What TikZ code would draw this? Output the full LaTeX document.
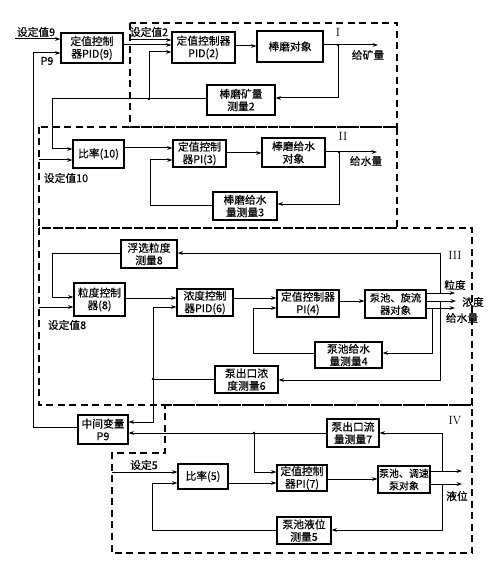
\documentclass[tikz,border=0pt]{standalone}
\usepackage{fontspec}
\newfontfamily\cjk[FakeBold=0.3]{Noto Sans CJK SC}
\usetikzlibrary{arrows.meta}
\tikzset{
  box/.style={draw, line width=1.1bp, font=\cjk\fontsize{10.8}{12.5}\selectfont, align=center, inner sep=0.5bp},
  lbl/.style={font=\cjk\fontsize{10.8}{12.5}\selectfont, inner sep=0pt},
  roman/.style={font=\rmfamily\fontsize{12}{13}\selectfont, inner sep=0pt},
  ln/.style={line width=1bp},
  arr/.style={line width=1bp, -{Stealth[length=5.5bp,width=3.8bp]}},
  region/.style={line width=1.1bp, dash pattern=on 7bp off 4.5bp}
}
\begin{document}
\begin{tikzpicture}[x=1bp, y=-1bp]
\useasboundingbox (0,0) rectangle (500,580);

% ---------- dashed regions ----------
\draw[region] (130,23) rectangle (397,127);
\draw[region] (39,127) rectangle (397,228);
\draw[region] (39,228) rectangle (472,405);
\draw[region] (165,405) -- (472,405) -- (472,553) -- (112,553) -- (112,453) -- (165,453) -- cycle;

% ---------- boxes ----------
\node[box, minimum width=62bp, minimum height=30bp] (pid9) at (92,48) {定值控制\\器PID(9)};
\node[box, minimum width=63bp, minimum height=31bp] (pid2) at (203.5,47.5) {定值控制器\\PID(2)};
\node[box, minimum width=66bp, minimum height=31bp] (obj1) at (290,46.5) {棒磨对象};
\node[box, minimum width=68bp, minimum height=30bp] (m2) at (241,100) {棒磨矿量\\测量2};
\node[box, minimum width=51bp, minimum height=28bp] (r10) at (98.5,154) {比率(10)};
\node[box, minimum width=53bp, minimum height=27bp] (pi3) at (199.5,153.5) {定值控制\\器PI(3)};
\node[box, minimum width=63bp, minimum height=29bp] (obj2) at (293.5,152.5) {棒磨给水\\对象};
\node[box, minimum width=64bp, minimum height=28bp] (m3) at (245,206) {棒磨给水\\量测量3};
\node[box, minimum width=56bp, minimum height=28bp] (m8) at (149,254) {浮选粒度\\测量8};
\node[box, minimum width=51bp, minimum height=33bp] (c8) at (99.5,299.5) {粒度控制\\器(8)};
\node[box, minimum width=56bp, minimum height=27bp] (pid6) at (205,302.5) {浓度控制\\器PID(6)};
\node[box, minimum width=62bp, minimum height=27bp] (pi4) at (308,303.5) {定值控制器\\PI(4)};
\node[box, minimum width=61bp, minimum height=28bp, font=\cjk\fontsize{10.3}{12.5}\selectfont] (obj3) at (395.5,304) {泵池、旋流\\器对象};
\node[box, minimum width=67bp, minimum height=26bp] (m4) at (348.5,355) {泵池给水\\量测量4};
\node[box, minimum width=63bp, minimum height=27bp] (m6) at (246.5,379.5) {泵出口浓\\度测量6};
\node[box, minimum width=50bp, minimum height=29bp] (p9) at (103,429.5) {中间变量\\P9};
\node[box, minimum width=52bp, minimum height=28bp] (m7) at (353,433) {泵出口流\\量测量7};
\node[box, minimum width=50bp, minimum height=25bp] (r5) at (203,476.5) {比率(5)};
\node[box, minimum width=50bp, minimum height=26bp] (pi7) at (302,478) {定值控制\\器PI(7)};
\node[box, minimum width=52bp, minimum height=27bp, font=\cjk\fontsize{10}{12.5}\selectfont] (obj4) at (404,479.5) {泵池、调速\\泵对象};
\node[box, minimum width=54bp, minimum height=27bp] (m5) at (304,530.5) {泵池液位\\测量5};

% ---------- free ends ----------
\coordinate (s9) at (15,39);
\coordinate (s2) at (130,40);
\coordinate (s10) at (39,160);
\coordinate (s8) at (39,307);
\coordinate (s5) at (112,472);
\coordinate (o1) at (378,45);
\coordinate (o2) at (377,152);
\coordinate (o3a) at (455,293);
\coordinate (o3b) at (456,301);
\coordinate (o3c) at (455,308);
\coordinate (o4a) at (462,471);
\coordinate (o4b) at (462,484);

% ---------- region I ----------
\draw[arr] (s9) -- (pid9.west |- s9);
\draw[arr] (p9.west |- 0,427) -- (33,427) -- (33,53) -- (pid9.west |- 0,53);
\draw[arr] (pid9.east |- 0,45) -- (pid2.west |- 0,45);
\draw[arr] (s2) -- (pid2.west |- s2);
\draw[arr] (pid2.east |- 0,46) -- (obj1.west |- 0,46);
\draw[arr] (obj1.east |- o1) -- (o1);
\draw[arr] (338,45) -- (338,98) -- (m2.east |- 0,98);
\draw[ln] (m2.west |- 0,99) -- (149,99);
\draw[arr] (149,99) -- (52,99) -- (52,149) -- (r10.west |- 0,149);
\draw[arr] (149,99) -- (149,52) -- (pid2.west |- 0,52);
\fill (149,99) circle (1.3bp) (338,45) circle (1.3bp);

% ---------- region II ----------
\draw[arr] (s10) -- (r10.west |- s10);
\draw[arr] (r10.east |- 0,148) -- (pi3.west |- 0,148);
\draw[arr] (pi3.east |- 0,153) -- (obj2.west |- 0,153);
\draw[arr] (obj2.east |- o2) -- (o2);
\draw[arr] (339,152) -- (339,204) -- (m3.east |- 0,204);
\draw[arr] (m3.west |- 0,205) -- (150,205) -- (150,160) -- (pi3.west |- 0,160);
\fill (339,152) circle (1.3bp);

% ---------- region III ----------
\draw[arr] (m8.west |- 0,253) -- (52,253) -- (52,297) -- (c8.west |- 0,297);
\draw[arr] (440,293) -- (440,253) -- (m8.east |- 0,253);
\draw[arr] (s8) -- (c8.west |- s8);
\draw[arr] (c8.east |- 0,298) -- (pid6.west |- 0,298);
\draw[arr] (pid6.east |- 0,298) -- (pi4.west |- 0,298);
\draw[arr] (pi4.east |- 0,301) -- (obj3.west |- 0,301);
\draw[arr] (obj3.east |- o3a) -- (o3a);
\draw[arr] (obj3.east |- o3b) -- (o3b);
\draw[arr] (obj3.east |- o3c) -- (o3c);
\draw[arr] (432,308) -- (432,353) -- (m4.east |- 0,353);
\draw[arr] (m4.west |- 0,353) -- (253,353) -- (253,308) -- (pi4.west |- 0,308);
\draw[arr] (440,301) -- (440,380) -- (m6.east |- 0,380);
\draw[ln] (m6.west |- 0,379) -- (153,379);
\draw[arr] (153,379) -- (153,307) -- (pid6.west |- 0,307);
\draw[arr] (153,379) -- (153,422) -- (p9.east |- 0,422);
\fill (153,379) circle (1.3bp);

% ---------- region IV ----------
\draw[ln] (m7.west |- 0,433) -- (254,433);
\draw[arr] (254,433) -- (p9.east |- 0,433);
\draw[arr] (254,433) -- (254,472) -- (pi7.west |- 0,472);
\draw[arr] (442,471) -- (442,433) -- (m7.east |- 0,433);
\draw[arr] (s5) -- (r5.west |- s5);
\draw[arr] (r5.east |- 0,483) -- (pi7.west |- 0,483);
\draw[arr] (m5.west |- 0,530) -- (152,530) -- (152,483) -- (r5.west |- 0,483);
\draw[arr] (pi7.east |- 0,479) -- (obj4.west |- 0,479);
\draw[arr] (obj4.east |- o4a) -- (o4a);
\draw[arr] (obj4.east |- o4b) -- (o4b);
\draw[arr] (442,484) -- (442,530) -- (m5.east |- 0,530);
\fill (254,433) circle (1.3bp);

% ---------- labels ----------
\node[lbl] (t9) at (36,32) {设定值9};
\node[lbl] (tp9) at (47,61) {P9};
\node[lbl] (t2) at (149,32) {设定值2};
\node[roman] (rI) at (338,32) {I};
\node[lbl] (tg1) at (368,55) {给矿量};
\node[lbl] (t10) at (66,178) {设定值10};
\node[roman] (rII) at (343,136) {II};
\node[lbl] (tg2) at (366,161) {给水量};
\node[roman] (rIII) at (455,255) {III};
\node[lbl] (t8) at (67,325) {设定值8};
\node[lbl] (tld) at (455,285) {粒度};
\node[lbl] (tnd) at (473,302) {浓度};
\node[lbl] (tgs) at (462,318) {给水量};
\node[roman] (rIV) at (455,421) {IV};
\node[lbl] (t5) at (144,465) {设定5};
\node[lbl] (tyw) at (457,496) {液位};
\end{tikzpicture}
\end{document}
